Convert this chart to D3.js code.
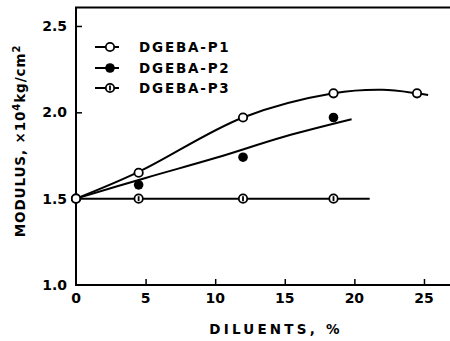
<!DOCTYPE html>
<html>
<head>
<meta charset="utf-8">
<script src="https://d3js.org/d3.v7.min.js"></script>
<style>
  body { margin: 0; background: #fff; }
  text { font-family: "DejaVu Sans", sans-serif; font-weight: bold; fill: #000; }
</style>
</head>
<body>
<svg id="chart" width="450" height="341"></svg>
<script>
// measured points
var p1x = [0, 4.5, 12, 18.5, 24.5];
var p1y = [1.5, 1.65, 1.97, 2.11, 2.11];
var p2x = [0, 4.5, 12, 18.5];
var p2y = [1.5, 1.58, 1.74, 1.97];
var p3x = [0, 4.5, 12, 18.5];
var p3y = [1.5, 1.5, 1.5, 1.5];

// hand-drawn fitted curves
var fit1x = [0, 4.5, 12, 18.5, 22, 24.5, 25.3];
var fit1y = [1.5, 1.655, 1.97, 2.11, 2.13, 2.11, 2.10];
var fit2x = [0, 5, 10, 15, 19.8];
var fit2y = [1.5, 1.62, 1.735, 1.86, 1.96];
var fit3x = [0, 21.1];
var fit3y = [1.5, 1.5];

var xTicks = [0, 5, 10, 15, 20, 25];
var yTicks = [1.0, 1.5, 2.0, 2.5];
var names = ["DGEBA-P1", "DGEBA-P2", "DGEBA-P3"];

var svg = d3.select("#chart");
var x = d3.scaleLinear().domain([0, 26.87]).range([76, 450]);
var y = d3.scaleLinear().domain([1.0, 2.607]).range([285, 7.5]);

function zip(a, b) { return a.map(function(v, i) { return [v, b[i]]; }); }

// frame (top and left/bottom, open right)
svg.append("path")
  .attr("d", "M450," + y(2.607) + "H" + x(0) + "V" + y(1.0) + "H450")
  .attr("fill", "none").attr("stroke", "#000").attr("stroke-width", 2);

// axes
svg.append("g")
  .attr("transform", "translate(0," + y(1.0) + ")")
  .call(d3.axisTop(x).tickValues(xTicks.slice(1)).tickSize(6).tickFormat(""))
  .call(function(g) { g.select(".domain").remove(); g.selectAll("line").attr("stroke-width", 1.5); });

svg.append("g")
  .attr("transform", "translate(" + x(0) + ",0)")
  .call(d3.axisRight(y).tickValues([2.0, 2.5]).tickSize(6).tickFormat(""))
  .call(function(g) { g.select(".domain").remove(); g.selectAll("line").attr("stroke-width", 1.5); });

// tick labels
svg.selectAll(".xl").data(xTicks).enter().append("text")
  .attr("x", function(d) { return x(d); })
  .attr("y", 303)
  .attr("text-anchor", "middle")
  .attr("font-size", 14)
  .text(function(d) { return d; });

svg.selectAll(".yl").data(yTicks).enter().append("text")
  .attr("x", 67)
  .attr("y", function(d) { return y(d) + 5; })
  .attr("text-anchor", "end")
  .attr("font-size", 14)
  .text(function(d) { return d.toFixed(1); });

// axis titles
svg.append("text")
  .attr("x", 276).attr("y", 334)
  .attr("text-anchor", "middle")
  .attr("font-size", 13.5)
  .attr("letter-spacing", 3.2)
  .text("DILUENTS, %");

svg.append("text")
  .attr("transform", "translate(25,141) rotate(-90)")
  .attr("text-anchor", "middle")
  .attr("font-size", 13.5)
  .attr("letter-spacing", 0.9)
  .html("MODULUS, ×10<tspan dy='-5' font-size='10'>4</tspan><tspan dy='5'>kg/cm</tspan><tspan dy='-5' font-size='10'>2</tspan>");

// curves
var line = d3.line().x(function(d) { return x(d[0]); }).y(function(d) { return y(d[1]); })
  .curve(d3.curveCatmullRom.alpha(0.5));
[[fit1x, fit1y], [fit2x, fit2y], [fit3x, fit3y]].forEach(function(f) {
  svg.append("path")
    .datum(zip(f[0], f[1]))
    .attr("d", line)
    .attr("fill", "none").attr("stroke", "#000").attr("stroke-width", 2);
});

// markers
function marker(g, kind, cx, cy) {
  if (kind === 1) {
    g.append("circle").attr("cx", cx).attr("cy", cy).attr("r", 4.2)
      .attr("fill", "#fff").attr("stroke", "#000").attr("stroke-width", 1.8);
  } else if (kind === 2) {
    g.append("circle").attr("cx", cx).attr("cy", cy).attr("r", 4.8).attr("fill", "#000");
  } else {
    g.append("circle").attr("cx", cx).attr("cy", cy).attr("r", 4.2)
      .attr("fill", "#fff").attr("stroke", "#000").attr("stroke-width", 1.8);
    g.append("line").attr("x1", cx).attr("x2", cx).attr("y1", cy - 2.5).attr("y2", cy + 2.5)
      .attr("stroke", "#000").attr("stroke-width", 1.8);
  }
}

var pts = svg.append("g");
zip(p3x, p3y).forEach(function(d) { marker(pts, 3, x(d[0]), y(d[1])); });
zip(p2x, p2y).forEach(function(d) { marker(pts, 2, x(d[0]), y(d[1])); });
zip(p1x, p1y).forEach(function(d) { marker(pts, 1, x(d[0]), y(d[1])); });

// legend
var ly = [47, 68, 88];
names.forEach(function(n, i) {
  svg.append("line").attr("x1", 95).attr("x2", 119).attr("y1", ly[i]).attr("y2", ly[i])
    .attr("stroke", "#000").attr("stroke-width", 2);
  marker(svg, i + 1, 110, ly[i]);
  svg.append("text").attr("x", 139).attr("y", ly[i] + 5)
    .attr("font-size", 13.5).attr("letter-spacing", 1.8)
    .text(n);
});
</script>
</body>
</html>
